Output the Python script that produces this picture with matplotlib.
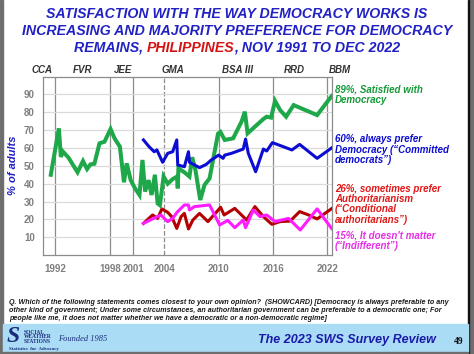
import matplotlib

matplotlib.use("Agg")
import matplotlib.pyplot as plt
from matplotlib.patches import Rectangle

plt.rcParams["font.family"] = ["Liberation Sans", "DejaVu Sans"]

# survey dates (decimal years) and % of adults
sat_years = [1991.99, 1992.88, 1993.10, 1993.32, 1993.94, 1994.94, 1995.54, 1995.99,
             1996.36, 1996.80, 1997.36, 1997.91, 1998.58, 1999.02, 1999.61, 2000.06,
             2000.36, 2000.80, 2001.28, 2001.77, 2002.10, 2002.39, 2002.77, 2003.10,
             2003.47, 2003.77, 2004.02, 2004.43, 2004.88, 2005.43, 2005.91, 2005.99,
             2006.06, 2006.72, 2007.28, 2007.58, 2007.94, 2008.47, 2008.94, 2009.50,
             2010.43, 2010.69, 2011.17, 2012.10, 2013.02, 2013.39, 2013.69, 2015.43,
             2015.80, 2016.28, 2016.72, 2017.28, 2017.94, 2018.77, 2021.36, 2022.95]
sat_vals = [45, 71, 55, 58, 54.6, 46.4, 52.7, 48.2,
            50.8, 51.2, 62.6, 63.5, 70.6, 65.4, 60.7, 40.8,
            51.4, 42, 37.4, 33.7, 53.3, 35.6, 42, 33.7,
            45, 29, 28, 44, 40, 42.6, 44, 37.4,
            48.6, 46.4, 44, 54.8, 47.7, 30.9, 39.3, 43,
            68, 69, 64.5, 65.4, 74.7, 80.3, 68.2, 76.2,
            77.5, 77, 86.3, 81.2, 77.5, 84, 78.4, 89]

dem_years = [2002.21, 2002.83, 2003.39, 2003.69, 2004.32, 2004.88, 2005.43, 2005.88,
             2005.99, 2006.72, 2007.17, 2007.28, 2008.39, 2009.13, 2009.69, 2010.50,
             2010.99, 2011.17, 2011.91, 2013.21, 2013.47, 2013.77, 2014.58, 2015.43,
             2015.80, 2016.43, 2018.58, 2019.43, 2021.36, 2022.95]
dem_vals = [64.5, 60.7, 57.9, 58.9, 52, 57, 57.9, 64.5,
            50.5, 49.5, 57.9, 52, 49, 50.8, 53.3, 56,
            54.2, 56, 57, 59.4, 65, 57, 46.7, 59.4,
            58.3, 63, 58.9, 62, 54.2, 60]

auth_years = [2002.21, 2003.21, 2003.77, 2004.24, 2004.88, 2005.32, 2005.88, 2006.36,
              2006.72, 2007.17, 2007.66, 2008.39, 2009.32, 2010.72, 2011.10, 2012.28,
              2013.58, 2014.50, 2015.43, 2016.36, 2017.28, 2018.39, 2019.43, 2020.43,
              2021.36, 2022.95]
auth_vals = [17.8, 22.5, 20.6, 25.9, 24, 21.6, 15, 21.6,
             23.4, 14.7, 19.7, 23.4, 18.8, 26.8, 22.5, 26.2,
             19.7, 27.2, 21.6, 17.3, 18.8, 19.1, 24.4, 22.5,
             20.3, 26]

indiff_years = [2002.21, 2003.21, 2004.13, 2004.88, 2005.43, 2005.91, 2006.72, 2007.17,
                2007.28, 2007.83, 2009.50, 2010.06, 2010.61, 2011.50, 2012.28, 2013.21,
                2013.47, 2014.32, 2015.06, 2015.80, 2016.72, 2018.21, 2019.50, 2021.36,
                2022.95]
indiff_vals = [17.8, 20.3, 22.5, 18.8, 20.6, 24, 28.1, 28.1,
               25.3, 27.2, 28.1, 22.5, 16.9, 19.5, 15.4, 19.7,
               15.4, 25.3, 21.6, 22.5, 18.8, 20.6, 14.1, 25.9,
               15]

# presidential transitions
term_starts = [1992.5, 1998.5, 2001.05, 2004.5, 2010.5, 2016.5, 2022.5]
term_labels = ["1992", "1998", "2001", "2004", "2010", "2016", "2022"]
presidents = ["CCA", "FVR", "JEE", "GMA", "BSA III", "RRD", "BBM"]
president_x = [1990.99, 1995.54, 2000.0, 2005.47, 2012.6, 2018.9, 2023.9]

GREEN = "#1ea84a"
BLUE = "#0c0cd2"
DARKRED = "#b40000"
MAGENTA = "#ff1cff"
TITLE_BLUE = "#2121c4"

W, H = 474, 354
fig = plt.figure(figsize=(W / 100, H / 100), dpi=100)


def fx(px):
    return px / W


def fy(py):
    return 1 - py / H


# slide frame and footer band
fig.patches.append(Rectangle((0, 0), fx(3), 1, transform=fig.transFigure, color="#6e6e6e", zorder=0))
fig.patches.append(Rectangle((fx(469), 0), fx(5), 1, transform=fig.transFigure, color="#6e6e6e", zorder=0))
fig.patches.append(Rectangle((fx(468), 0), fx(1.2), 1, transform=fig.transFigure, color="#111111", zorder=0))
fig.patches.append(Rectangle((fx(3), fy(352)), fx(465), fy(324) - fy(352), transform=fig.transFigure,
                             color="#aadcf6", zorder=0))
fig.patches.append(Rectangle((fx(3), 0), fx(465), fy(352), transform=fig.transFigure, color="#6e6e6e", zorder=0))

ax = fig.add_axes([fx(43), fy(255.2), fx(332 - 43), fy(76.5) - fy(255.2)])
ax.set_xlim(1991.13, 2023.0)
ax.set_ylim(0, 100)

ax.set_yticks(range(10, 100, 10))
ax.grid(axis="y", color="#dadada", lw=0.9)
for x in term_starts:
    ax.axvline(x, color="#8c8c8c", lw=0.9, ls="--" if x == 2004.5 else "-", zorder=1)
ax.set_xticks(term_starts)
ax.set_xticklabels(term_labels)
ax.tick_params(length=0, labelsize=7, labelcolor="#7f7f7f", pad=6)
for lab in ax.get_xticklabels() + ax.get_yticklabels():
    lab.set_fontweight("bold")
for s in ax.spines.values():
    s.set_color("#8c8c8c")
    s.set_linewidth(0.9)

ax.plot(sat_years, sat_vals, color=GREEN, lw=2.9, solid_joinstyle="miter", zorder=4)
ax.plot(dem_years, dem_vals, color=BLUE, lw=2.2, zorder=4)
ax.plot(auth_years, auth_vals, color=DARKRED, lw=2.2, zorder=3)
ax.plot(indiff_years, indiff_vals, color=MAGENTA, lw=2.2, zorder=3)

# y axis title
fig.text(fx(13), fy(165), "% of adults", rotation=90, color=TITLE_BLUE, fontsize=8,
         fontweight="bold", fontstyle="italic", ha="center", va="center")

for name, x in zip(presidents, president_x):
    ax.text(x, 103.5, name, ha="center", va="center", fontsize=7, fontweight="bold",
            fontstyle="italic", color="#333333", clip_on=False)

# right-hand series labels
lab_kw = dict(fontsize=7, fontweight="bold", fontstyle="italic", va="top", ha="left", linespacing=1.05)
fig.text(fx(335), fy(84.5), "89%, Satisfied with\nDemocracy", color="#159a3a", **lab_kw)
fig.text(fx(335), fy(134.5), "60%, always prefer\nDemocracy (\u201cCommitted\ndemocrats\u201d)", color=BLUE, **lab_kw)
fig.text(fx(335), fy(183.5), "26%, sometimes prefer\nAuthoritarianism\n(\u201cConditional\nauthoritarians\u201d)",
         color="#e01818", **lab_kw)
fig.text(fx(335), fy(231), "15%, It doesn't matter\n(\u201cIndifferent\u201d)", color="#e62ee6", **lab_kw)

# title
tkw = dict(fontsize=10.2, fontweight="bold", fontstyle="italic", ha="center", va="center")
fig.text(fx(237), fy(14), "SATISFACTION WITH THE WAY DEMOCRACY WORKS IS", color=TITLE_BLUE, **tkw)
fig.text(fx(237), fy(31), "INCREASING AND MAJORITY PREFERENCE FOR DEMOCRACY", color=TITLE_BLUE, **tkw)
parts = [("REMAINS, ", TITLE_BLUE), ("PHILIPPINES", "#d41414"), (", NOV 1991 TO DEC 2022", TITLE_BLUE)]
pkw = dict(tkw, ha="left")
texts = [fig.text(0, fy(48), s, color=c, **pkw) for s, c in parts]
fig.canvas.draw()
r = fig.canvas.get_renderer()
widths = [t.get_window_extent(r).width for t in texts]
x0 = 237 - sum(widths) / 2
for t, w in zip(texts, widths):
    t.set_x(fx(x0))
    x0 += w

# question footnote
fig.text(fx(9), fy(299),
         "Q. Which of the following statements comes closest to your own opinion?  (SHOWCARD) "
         "[Democracy is always preferable to any\n"
         "other kind of government; Under some circumstances, an authoritarian government can be "
         "preferable to a democratic one; For\n"
         "people like me, it does not matter whether we have a democratic or a non-democratic regime]",
         fontsize=5.1, fontweight="bold", fontstyle="italic", color="#1a1a1a", va="top", ha="left",
         linespacing=1.25)

# footer
fig.text(fx(347), fy(340), "The 2023 SWS Survey Review", fontsize=9, fontweight="bold",
         fontstyle="italic", color="#1a1aa8", ha="center", va="center")
fig.text(fx(459), fy(341), "49", fontsize=7, fontweight="bold", family="Liberation Serif",
         color="#111111", ha="center", va="center")
fig.text(fx(13), fy(337), "S", fontsize=17, fontweight="bold", fontstyle="italic",
         family="Liberation Serif", color="#1b2a7a", ha="center", va="center")
fig.text(fx(24), fy(337), "SOCIAL\nWEATHER\nSTATIONS", fontsize=4, fontweight="bold",
         family="Liberation Serif", color="#1b2a7a", ha="left", va="center", linespacing=0.95)
fig.text(fx(58), fy(339), "Founded 1985", fontsize=6, fontstyle="italic",
         family="Liberation Serif", color="#1b2a7a", ha="left", va="center")
fig.text(fx(9), fy(349), "Statistics  for  Advocacy", fontsize=3.5, fontweight="bold",
         family="Liberation Serif", color="#1b2a7a", ha="left", va="center")

fig.savefig("out.png", dpi=100)
